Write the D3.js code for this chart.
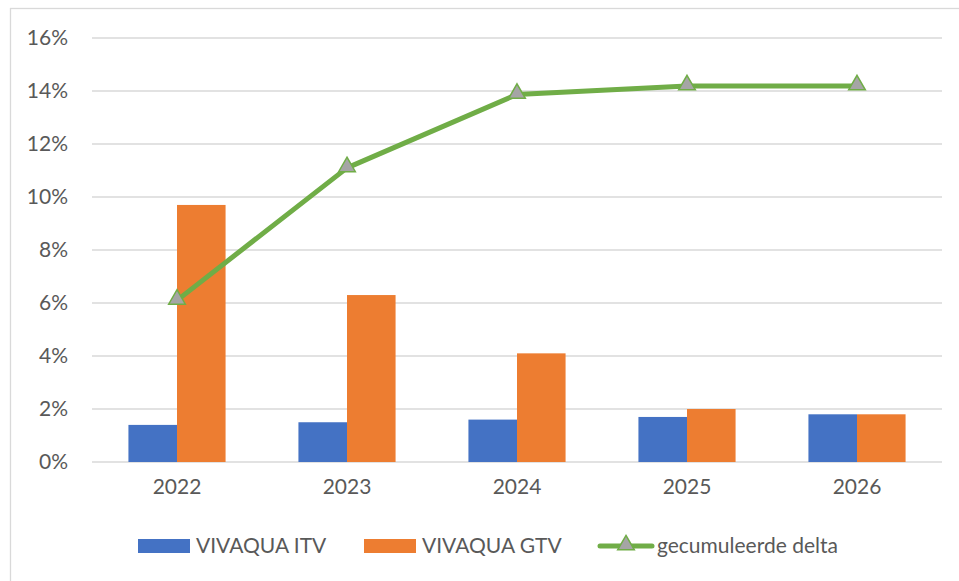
<!DOCTYPE html>
<html>
<head>
<meta charset="utf-8">
<script src="https://cdn.jsdelivr.net/npm/d3@7"></script>
<style>
html,body{margin:0;padding:0;background:#fff;}
svg{display:block;font-family:Lato,"Open Sans",sans-serif;}
</style>
</head>
<body>
<svg id="chart" width="959" height="581"></svg>
<script>
const years = ["2022","2023","2024","2025","2026"];
const itv = [1.4, 1.5, 1.6, 1.7, 1.8];
const gtv = [9.7, 6.3, 4.1, 2.0, 1.8];
const delta = [6.1, 11.1, 13.87, 14.19, 14.19];
const yTicks = [0, 2, 4, 6, 8, 10, 12, 14, 16];
const seriesNames = ["VIVAQUA ITV", "VIVAQUA GTV", "gecumuleerde delta"];
const colors = {itv:"#4472C4", gtv:"#ED7D31", line:"#70AD47", marker:"#A5A5A5"};

const svg = d3.select("#chart");
const plotL = 92, plotR = 942, plotT = 38, plotB = 462;
const fs = "21px";

// outer chart border (cropped on right/bottom)
svg.append("rect").attr("x",10.5).attr("y",8.5).attr("width",1000).attr("height",1000)
  .attr("fill","none").attr("stroke","#d9d9d9").attr("stroke-width",1.3);

const x = d3.scaleBand().domain(years).range([plotL, plotR]).paddingInner(0).paddingOuter(0);
const y = d3.scaleLinear().domain([0,16]).range([plotB, plotT]);

// gridlines
svg.append("g").selectAll("line").data(yTicks).join("line")
  .attr("x1",plotL).attr("x2",plotR)
  .attr("y1",d=>y(d)).attr("y2",d=>y(d))
  .attr("stroke","#d9d9d9").attr("stroke-width",1.3);

// y axis labels
const yAxis = d3.axisLeft(y).tickValues(yTicks).tickFormat(d=>d+"%").tickSize(0).tickPadding(0);
const ya = svg.append("g").attr("transform",`translate(${68},0)`).call(yAxis);
ya.select(".domain").remove();
ya.selectAll("text").attr("fill","#595959").style("font-size",fs).style("font-family","Lato,'Open Sans',sans-serif");

// x axis labels
const xAxis = d3.axisBottom(x).tickSize(0).tickPadding(0);
const xa = svg.append("g").attr("transform",`translate(0,${479})`).call(xAxis);
xa.select(".domain").remove();
xa.selectAll("text").attr("fill","#595959").style("font-size",fs).style("font-family","Lato,'Open Sans',sans-serif");

// bars: gap width 150%
const bw = x.bandwidth() / 3.5;
const inner = d3.scaleBand().domain(["itv","gtv"]).range([0, 2*bw]);
const groups = svg.append("g").selectAll("g").data(years).join("g")
  .attr("transform", d => `translate(${x(d) + x.bandwidth()/2 - bw},0)`);
groups.append("rect").attr("x",inner("itv")).attr("width",bw)
  .attr("y",(d,i)=>y(itv[i])).attr("height",(d,i)=>y(0)-y(itv[i])).attr("fill",colors.itv);
groups.append("rect").attr("x",inner("gtv")).attr("width",bw)
  .attr("y",(d,i)=>y(gtv[i])).attr("height",(d,i)=>y(0)-y(gtv[i])).attr("fill",colors.gtv);

// line
const cx = d => x(d) + x.bandwidth()/2;
const line = d3.line().x((d,i)=>cx(years[i])).y(d=>y(d));
svg.append("path").datum(delta).attr("d",line).attr("fill","none")
  .attr("stroke",colors.line).attr("stroke-width",5).attr("stroke-linejoin","round").attr("stroke-linecap","round");

const tri = d3.symbol().type(d3.symbolTriangle).size(120);
svg.append("g").selectAll("path").data(delta).join("path")
  .attr("d",tri).attr("transform",(d,i)=>`translate(${cx(years[i])},${y(d)-1})`)
  .attr("fill",colors.marker).attr("stroke",colors.line).attr("stroke-width",1.5);

// legend
const ly = 546;
const lg = svg.append("g");
lg.append("rect").attr("x",138).attr("y",ly-7).attr("width",52).attr("height",14).attr("fill",colors.itv);
lg.append("text").attr("x",196).attr("y",ly).attr("dy","0.35em").text(seriesNames[0]);
lg.append("rect").attr("x",364).attr("y",ly-7).attr("width",52).attr("height",14).attr("fill",colors.gtv);
lg.append("text").attr("x",422).attr("y",ly).attr("dy","0.35em").text(seriesNames[1]);
lg.append("line").attr("x1",600).attr("x2",652).attr("y1",ly).attr("y2",ly)
  .attr("stroke",colors.line).attr("stroke-width",5).attr("stroke-linecap","round");
lg.append("path").attr("d",tri).attr("transform",`translate(626,${ly-1})`)
  .attr("fill",colors.marker).attr("stroke",colors.line).attr("stroke-width",1.5);
lg.append("text").attr("x",657).attr("y",ly).attr("dy","0.35em").text(seriesNames[2]);
lg.selectAll("text").attr("fill","#595959").style("font-size",fs);
</script>
</body>
</html>
